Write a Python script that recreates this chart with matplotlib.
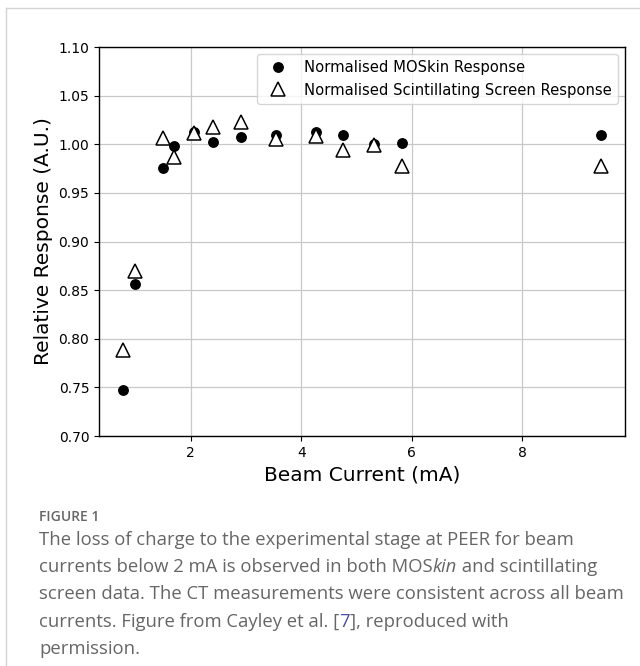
import numpy as np
import matplotlib
matplotlib.use("Agg")
import matplotlib.pyplot as plt
from matplotlib.lines import Line2D

# beam current (mA)
current = [0.77, 0.99, 1.50, 1.69, 2.05, 2.41, 2.91, 3.54, 4.27, 4.75, 5.32, 5.82, 9.43]
# normalised responses (A.U.)
moskin = [0.747, 0.856, 0.976, 0.998, 1.013, 1.002, 1.007, 1.009, 1.013, 1.009, 1.000, 1.001, 1.010]
screen = [0.788, 0.870, 1.006, 0.987, 1.012, 1.018, 1.023, 1.005, 1.008, 0.994, 0.999, 0.978, 0.978]

caption_lines = [
    [("The loss of charge to the experimental stage at PEER for beam", "normal", "#666666")],
    [("currents below 2 mA is observed in both MOS", "normal", "#666666"),
     ("kin", "italic", "#666666"),
     (" and scintillating", "normal", "#666666")],
    [("screen data. The CT measurements were consistent across all beam", "normal", "#666666")],
    [("currents. Figure from Cayley et al. [", "normal", "#666666"),
     ("7", "normal", "#4a4fa8"),
     ("], reproduced with", "normal", "#666666")],
    [("permission.", "normal", "#666666")],
]

W, H = 640, 666
fig = plt.figure(figsize=(W/100, H/100), dpi=100)

# thin frame round the figure panel
fig.add_artist(Line2D([6/W, 6/W], [0, 1-8/H], color="#d4d4d4", lw=1))
fig.add_artist(Line2D([6/W, 1], [1-8/H, 1-8/H], color="#d4d4d4", lw=1))

ax = fig.add_axes([99/W, 1-436/H, (625-99)/W, (436-47)/H])
ax.plot(current, moskin, "o", color="black", ms=6.8, label="Normalised MOSkin Response")
ax.plot(current, screen, "^", mfc="white", mec="black", mew=1.1, ms=9.5,
        label="Normalised Scintillating Screen Response")
ax.set_ylim(0.70, 1.10)
ax.set_yticks(np.arange(0.70, 1.101, 0.05))
ax.set_xticks([2, 4, 6, 8])
ax.grid(True, color="#c8c8c8", lw=0.9)
ax.set_axisbelow(True)
for s in ax.spines.values():
    s.set_linewidth(1.0)
ax.tick_params(labelsize=10)
ax.set_xlabel("Beam Current (mA)", fontsize=14.5)
ax.set_ylabel("Relative Response (A.U.)", fontsize=14.5)
ax.legend(loc="upper right", fontsize=10.6, numpoints=1)

fig.text(39/W, 1-517/H, "FIGURE 1", fontsize=10, fontweight="semibold", color="#666666",
         family="Open Sans", va="center")

# caption, built piece by piece so the italic and coloured bits sit inline
renderer = fig.canvas.get_renderer()
y = 540
for line in caption_lines:
    x = 39
    for txt, style, col in line:
        t = fig.text(x/W, 1-y/H, txt, fontsize=13.3, style=style, color=col,
                     family="Open Sans", va="center")
        bb = t.get_window_extent(renderer)
        x += bb.width
    y += 27.2

fig.savefig("out.png", dpi=100)
